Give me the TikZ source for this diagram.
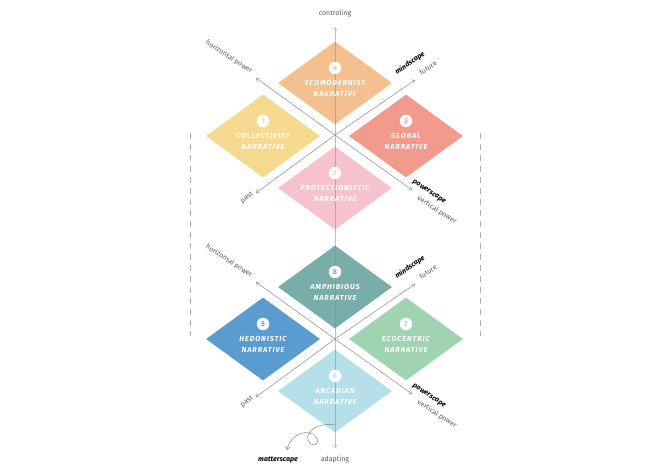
\documentclass[tikz,border=0pt]{standalone}
\usepackage{fontspec}
\setmainfont{Fira Sans}
\usetikzlibrary{shapes.geometric,arrows.meta}
\definecolor{c1}{HTML}{F5D98E}\definecolor{c2}{HTML}{F6C2CC}
\definecolor{c3}{HTML}{F29A8C}\definecolor{c4}{HTML}{F5C08F}
\definecolor{c5}{HTML}{5A9CD0}\definecolor{c6}{HTML}{B5E0EA}
\definecolor{c7}{HTML}{A0D3AF}\definecolor{c8}{HTML}{79ADA9}
\definecolor{ax}{HTML}{8A8A8A}
\begin{document}
\begin{tikzpicture}[x=1pt,y=-1pt,
  dia/.style={diamond,fill=#1,minimum width=114pt,minimum height=83pt,inner sep=0pt,aspect=1.37},
  nt/.style={font=\fontsize{7.3}{8}\selectfont\bfseries\itshape,text=white,inner sep=0pt},
  num/.style={circle,fill=white,minimum size=12.5pt,inner sep=0pt,font=\fontsize{7}{7}\selectfont\bfseries,text=#1},
  axis/.style={ax,line width=0.5pt,-{Straight Barb[length=3pt,width=5pt]}},
  lab/.style={font=\fontsize{7}{7}\selectfont,text=black!65,inner sep=0pt},
  blab/.style={font=\fontsize{7}{7}\selectfont\bfseries\itshape,text=black,inner sep=0pt}]
\useasboundingbox (0,0) rectangle (670,474);
% dashed side lines
\draw[ax!70,line width=0.8pt,dash pattern=on 6pt off 5pt] (190,133) coordinate(l1) -- (190,336) coordinate(l2);
\draw[ax!70,line width=0.8pt,dash pattern=on 6pt off 5pt] (480,133) coordinate(r1) -- (480,336) coordinate(r2);
% diamonds
\foreach \n/\x/\y in {4/335/83,1/263/136,3/406/136,2/335/188,8/335/287,5/263/339,7/406/339,6/335/391}
  \node[dia=c\n] (d\n) at (\x,\y) {};
% axis centres
\coordinate (cA) at (335,135); \coordinate (cB) at (335,339);
\foreach \c/\dy in {A/0,B/204}{
  \coordinate (hp\c) at (256,78+\dy); \coordinate (vp\c) at (412,190+\dy);
  \coordinate (fu\c) at (415,80+\dy); \coordinate (pa\c) at (256,193+\dy);
  \draw[axis] (cA|-{0,135+\dy}) -- (hp\c);
  \draw[axis] (cA|-{0,135+\dy}) -- (vp\c);
  \draw[axis] (cA|-{0,135+\dy}) -- (fu\c);
  \draw[axis] (cA|-{0,135+\dy}) -- (pa\c);
  \node[lab,rotate=-33] at (229,57+\dy) {horizontal power};
  \node[blab,rotate=35] at (410,63+\dy) {mindscape};
  \node[lab,rotate=35] at (428,68+\dy) {future};
  \node[lab,rotate=35] at (247,198+\dy) {past};
  \node[blab,rotate=-33] at (429,192+\dy) {powerscape};
  \node[lab,rotate=-33] at (437,210+\dy) {vertical power};
}
\coordinate (top) at (335,27); \coordinate (bot) at (335,448);
\draw[axis,draw opacity=0.55] (cA) -- (top);
\draw[axis,draw opacity=0.55] (cA) -- (bot);
\node[lab] (ctl) at (335,14) {controling};
\node[lab] (adp) at (335,460) {adapting};
\node[blab] (mat) at (278,460) {matterscape};
% squiggle
\coordinate (sq) at (335,425);
\draw[ax,line width=0.5pt,-{Straight Barb[length=3pt,width=5pt]}] (sq) .. controls (318,422) and (305,432) .. (308,440) .. controls (311,448) and (322,446) .. (316,437) .. controls (310,428) and (290,433) .. (287,450);
% texts
\foreach \n/\x/\y/\a/\b in {4/335/83/ECOMODERNIST/NARRATIVE,1/263/136/COLLECTIVIST/NARRATIVE,3/406/136/GLOBAL/NARRATIVE,2/335/188/PROTECTIONISTIC/NARRATIVE,8/335/287/AMPHIBIOUS/NARRATIVE,5/263/339/HEDONISTIC/NARRATIVE,7/406/339/ECOCENTRIC/NARRATIVE,6/335/391/ARCADIAN/NARRATIVE}{
  \node[num=c\n] (n\n) at (\x,\y-15) {\n};
  \node[nt] (t\n) at (\x,\y) {\addfontfeature{LetterSpace=12}\a};
  \node[nt] (u\n) at (\x,\y+11) {\addfontfeature{LetterSpace=12}\b};
}
\end{tikzpicture}
\end{document}
